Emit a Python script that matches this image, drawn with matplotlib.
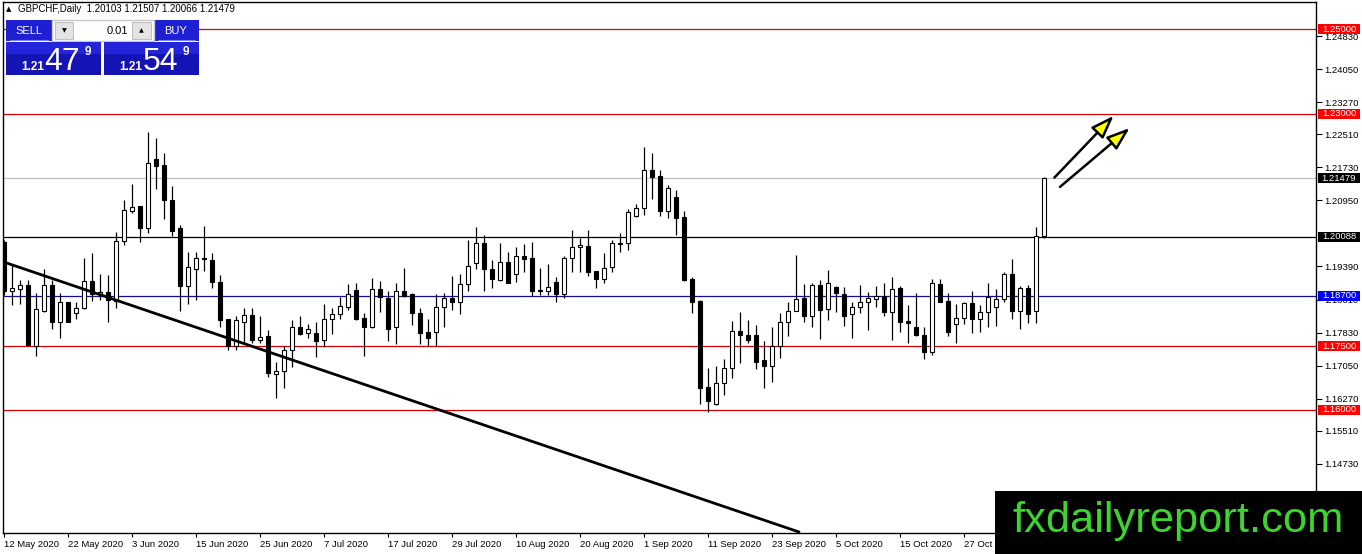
import matplotlib
matplotlib.use('Agg')
import matplotlib.pyplot as plt
import matplotlib.transforms as mtransforms
from matplotlib.patches import Rectangle

plt.rcParams['font.family'] = ['Liberation Sans', 'DejaVu Sans']

# GBPCHF daily candles, 12 May 2020 onward
opens = [1.1998, 1.1880, 1.1885, 1.1895, 1.1752, 1.1835, 1.1895, 1.1807, 1.1855, 1.1829,
         1.1840, 1.1904, 1.1874, 1.1878, 1.1858, 1.1999, 1.2071, 1.2082, 1.2031, 1.2192,
         1.2179, 1.2096, 1.2029, 1.1893, 1.1932, 1.1960, 1.1954, 1.1902, 1.1815, 1.1750,
         1.1809, 1.1825, 1.1766, 1.1775, 1.1685, 1.1691, 1.1742, 1.1796, 1.1781, 1.1781,
         1.1766, 1.1815, 1.1826, 1.1844, 1.1884, 1.1817, 1.1796, 1.1885, 1.1864, 1.1796,
         1.1882, 1.1874, 1.1829, 1.1784, 1.1784, 1.1844, 1.1864, 1.1854, 1.1897, 1.1948,
         1.1994, 1.1932, 1.1906, 1.1949, 1.1921, 1.1964, 1.1960, 1.1884, 1.1882, 1.1902,
         1.1873, 1.1958, 1.1984, 1.1988, 1.1929, 1.1909, 1.1937, 1.1993, 1.1994, 1.2059,
         1.2076, 1.2167, 1.2153, 1.2071, 1.2102, 1.2055, 1.1909, 1.1858, 1.1655, 1.1615,
         1.1663, 1.1699, 1.1787, 1.1777, 1.1777, 1.1717, 1.1705, 1.1750, 1.1809, 1.1835,
         1.1864, 1.1823, 1.1895, 1.1838, 1.1890, 1.1874, 1.1826, 1.1843, 1.1856, 1.1862,
         1.1870, 1.1831, 1.1888, 1.1810, 1.1796, 1.1777, 1.1738, 1.1898, 1.1858, 1.1803,
         1.1817, 1.1852, 1.1815, 1.1831, 1.1843, 1.1862, 1.1921, 1.1834, 1.1888, 1.1835,
         1.20103]
highs = [1.2002, 1.1943, 1.1907, 1.1907, 1.1877, 1.1932, 1.1907, 1.1877, 1.1856, 1.1854,
         1.1958, 1.1970, 1.1921, 1.1919, 1.2021, 1.2096, 1.2134, 1.2083, 1.2256, 1.2242,
         1.2206, 1.2129, 1.2037, 1.1974, 1.1974, 1.2035, 1.1970, 1.1919, 1.1816, 1.1822,
         1.1840, 1.1840, 1.1821, 1.1789, 1.1714, 1.1750, 1.1813, 1.1822, 1.1803, 1.1807,
         1.1850, 1.1840, 1.1868, 1.1898, 1.1901, 1.1830, 1.1911, 1.1905, 1.1880, 1.1899,
         1.1936, 1.1877, 1.1840, 1.1814, 1.1874, 1.1877, 1.1917, 1.1921, 1.2002, 1.2032,
         1.2014, 1.1954, 1.1995, 1.1973, 1.1986, 1.1992, 1.1997, 1.1936, 1.1945, 1.1915,
         1.1964, 1.2025, 1.2006, 1.2025, 1.1929, 1.1970, 1.2002, 1.2018, 1.2074, 1.2087,
         1.2222, 1.2206, 1.2167, 1.2132, 1.2120, 1.2071, 1.1915, 1.1860, 1.1699, 1.1703,
         1.1720, 1.1810, 1.1832, 1.1813, 1.1801, 1.1762, 1.1797, 1.1829, 1.1856, 1.1966,
         1.1898, 1.1899, 1.1907, 1.1931, 1.1893, 1.1890, 1.1854, 1.1895, 1.1878, 1.1893,
         1.1899, 1.1915, 1.1893, 1.1848, 1.1877, 1.1796, 1.1909, 1.1910, 1.1877, 1.1850,
         1.1856, 1.1881, 1.1848, 1.1901, 1.1886, 1.1925, 1.1956, 1.1892, 1.1895, 1.2032,
         1.21507]
lows = [1.1872, 1.1848, 1.1850, 1.1751, 1.1728, 1.1832, 1.1792, 1.1771, 1.1807, 1.1815,
        1.1839, 1.1858, 1.1860, 1.1809, 1.1842, 1.1990, 1.2066, 1.1998, 1.2017, 1.2122,
        1.2051, 1.2010, 1.1835, 1.1850, 1.1860, 1.1929, 1.1889, 1.1797, 1.1742, 1.1742,
        1.1759, 1.1759, 1.1759, 1.1679, 1.1628, 1.1653, 1.1701, 1.1777, 1.1770, 1.1724,
        1.1748, 1.1779, 1.1815, 1.1836, 1.1813, 1.1728, 1.1793, 1.1832, 1.1762, 1.1756,
        1.1868, 1.1801, 1.1756, 1.1751, 1.1750, 1.1795, 1.1836, 1.1827, 1.1880, 1.1933,
        1.1882, 1.1888, 1.1904, 1.1901, 1.1903, 1.1927, 1.1869, 1.1872, 1.1872, 1.1854,
        1.1864, 1.1927, 1.1927, 1.1917, 1.1889, 1.1901, 1.1925, 1.1974, 1.1977, 1.2057,
        1.2061, 1.2099, 1.2058, 1.2054, 1.2014, 1.1905, 1.1829, 1.1615, 1.1596, 1.1612,
        1.1636, 1.1675, 1.1711, 1.1759, 1.1696, 1.1651, 1.1667, 1.1722, 1.1775, 1.1835,
        1.1807, 1.1795, 1.1768, 1.1813, 1.1832, 1.1799, 1.1771, 1.1830, 1.1789, 1.1844,
        1.1821, 1.1766, 1.1784, 1.1758, 1.1774, 1.1720, 1.1729, 1.1855, 1.1774, 1.1758,
        1.1803, 1.1781, 1.1785, 1.1795, 1.1799, 1.1854, 1.1815, 1.1791, 1.1805, 1.1805,
        1.20066]
closes = [1.1880, 1.1888, 1.1895, 1.1754, 1.1838, 1.1895, 1.1807, 1.1855, 1.1808, 1.1840,
          1.1904, 1.1874, 1.1878, 1.1860, 1.1999, 1.2072, 1.2079, 1.2031, 1.2183, 1.2177,
          1.2095, 1.2024, 1.1892, 1.1937, 1.1958, 1.1956, 1.1903, 1.1813, 1.1751, 1.1813,
          1.1825, 1.1766, 1.1772, 1.1687, 1.1693, 1.1742, 1.1796, 1.1780, 1.1791, 1.1764,
          1.1814, 1.1826, 1.1846, 1.1874, 1.1815, 1.1797, 1.1885, 1.1866, 1.1792, 1.1882,
          1.1870, 1.1830, 1.1783, 1.1771, 1.1844, 1.1864, 1.1854, 1.1897, 1.1940, 1.1994,
          1.1932, 1.1909, 1.1949, 1.1901, 1.1964, 1.1956, 1.1882, 1.1880, 1.1890, 1.1873,
          1.1958, 1.1984, 1.1990, 1.1925, 1.1909, 1.1935, 1.1994, 1.1994, 1.2067, 1.2076,
          1.2167, 1.2151, 1.2071, 1.2124, 1.2054, 1.1907, 1.1856, 1.1653, 1.1622, 1.1663,
          1.1699, 1.1787, 1.1776, 1.1766, 1.1714, 1.1705, 1.1750, 1.1807, 1.1834, 1.1862,
          1.1821, 1.1895, 1.1836, 1.1899, 1.1876, 1.1823, 1.1844, 1.1856, 1.1864, 1.1870,
          1.1832, 1.1885, 1.1807, 1.1805, 1.1776, 1.1738, 1.1899, 1.1856, 1.1785, 1.1817,
          1.1852, 1.1815, 1.1831, 1.1866, 1.1862, 1.1921, 1.1835, 1.1888, 1.1826, 1.2010,
          1.21479]

date_labels = ['12 May 2020', '22 May 2020', '3 Jun 2020', '15 Jun 2020', '25 Jun 2020',
               '7 Jul 2020', '17 Jul 2020', '29 Jul 2020', '10 Aug 2020', '20 Aug 2020',
               '1 Sep 2020', '11 Sep 2020', '23 Sep 2020', '5 Oct 2020', '15 Oct 2020',
               '27 Oct 2020']
bars_per_label = 8

price_ticks = [1.24830, 1.24050, 1.23270, 1.22510, 1.21730, 1.20950, 1.19390,
               1.18610, 1.17830, 1.17050, 1.16270, 1.15510, 1.14730, 1.13950]

red_levels = [1.25000, 1.23000, 1.17500, 1.16000]
black_level = 1.20088
blue_level = 1.18700
bid = 1.21479

trend_x = [-0.1, 99.5]
trend_y = [1.1950, 1.1311]

arrow_starts = [(131.3, 1.2149), (132.0, 1.2127)]
arrow_ends = [(138.7, 1.2295), (140.7, 1.2266)]

W, H = 1362, 554
fig = plt.figure(figsize=(W / 100, H / 100), dpi=100)
fig.set_facecolor('w')
ax = fig.add_axes([3 / W, 1 - 533 / H, 1313 / W, 531 / H])
ax.set_xlim(-0.125, 164)
ax.set_ylim(1.13094, 1.25638)
px_per_price = 531 / (1.25638 - 1.13094)

# candles
n = len(opens)
for i in range(n):
    o, h, l, c = opens[i], highs[i], lows[i], closes[i]
    ax.vlines(i, l, h, color='black', lw=0.9, zorder=3)
    up = c >= o
    ax.bar(i, max(abs(c - o), 0.00003), bottom=min(o, c), width=0.58,
           color='white' if up else 'black', edgecolor='black', linewidth=0.8, zorder=4)

# levels
for lv in red_levels:
    ax.axhline(lv, color='#d40000', lw=0.9, zorder=2)
ax.axhline(black_level, color='black', lw=0.9, zorder=2)
ax.axhline(blue_level, color='#101090', lw=0.9, zorder=2)
ax.axhline(bid, color='#c0c0c0', lw=0.9, zorder=1)

ax.plot(trend_x, trend_y, color='black', lw=2.0, zorder=5, solid_capstyle='butt')

for s, e in zip(arrow_starts, arrow_ends):
    ax.annotate('', xy=e, xytext=s,
                arrowprops=dict(arrowstyle='-|>,head_length=1.4,head_width=0.5',
                                fc='#ffff00', ec='black', lw=1.8, shrinkA=0, shrinkB=0),
                zorder=6)

# axes styling
for sp in ax.spines.values():
    sp.set_linewidth(1.0)
ax.yaxis.tick_right()
ax.set_yticks(price_ticks)
ax.set_yticklabels(['%.5f' % t for t in price_ticks], fontsize=6.8)
ax.tick_params(axis='y', length=4, width=0.8, pad=2, direction='out')
ax.set_xticks([k * bars_per_label for k in range(len(date_labels))])
ax.set_xticklabels(date_labels, fontsize=6.8, ha='left')
ax.tick_params(axis='x', length=3, width=0.8, pad=2, direction='out')

# right-axis level labels (boxes 42 x 10 px)
tr = mtransforms.blended_transform_factory(ax.transAxes, ax.transData)
box_x = (1318 - 3) / 1313
box_w = 42 / 1313
box_h = 10 / px_per_price
def level_label(val, fc):
    ax.add_patch(Rectangle((box_x, val - box_h / 2), box_w, box_h, transform=tr,
                           fc=fc, ec='none', clip_on=False, zorder=19))
    ax.text(box_x + box_w / 2, val, '%.5f' % val, transform=tr, fontsize=6.8,
            color='white', va='center', ha='center', clip_on=False, zorder=20)
for lv in red_levels:
    level_label(lv, '#ff0000')
level_label(bid, 'black')
level_label(black_level, 'black')
level_label(blue_level, '#0000ff')

# overlay in pixel coordinates: header, trade panel, watermark
ov = fig.add_axes([0, 0, 1, 1], zorder=10)
ov.set_xlim(0, W)
ov.set_ylim(H, 0)
ov.axis('off')
ov.patch.set_alpha(0)

ov.text(6, 9, '\u25b2', fontsize=5, va='center', ha='left', family=['DejaVu Sans'])
ov.text(18, 9, 'GBPCHF,Daily  1.20103 1.21507 1.20066 1.21479', fontsize=7,
        va='center', ha='left', color='black')

blue = '#1e1ed2'
ov.add_patch(Rectangle((6, 20), 46, 21, fc=blue, ec='none'))
ov.add_patch(Rectangle((154, 20), 45, 21, fc=blue, ec='none'))
ov.plot([10, 48], [40, 40], color='#8080ff', lw=0.8)
ov.plot([158, 195], [40, 40], color='#8080ff', lw=0.8)
ov.text(29, 30.5, 'SELL', color='white', fontsize=8, ha='center', va='center')
ov.text(176, 30.5, 'BUY', color='white', fontsize=8, ha='center', va='center')
ov.add_patch(Rectangle((52, 20), 102, 21, fc='white', ec='#c8c8c8', lw=1))
ov.add_patch(Rectangle((55, 22), 18, 17, fc='#e4e4e4', ec='#c0c0c0', lw=0.8))
ov.add_patch(Rectangle((132, 22), 19, 17, fc='#e4e4e4', ec='#c0c0c0', lw=0.8))
ov.text(64, 30.5, '\u25bc', fontsize=4.5, ha='center', va='center', family=['DejaVu Sans'])
ov.text(141.5, 30.5, '\u25b2', fontsize=4.5, ha='center', va='center', family=['DejaVu Sans'])
ov.text(128, 30.5, '0.01', fontsize=8, ha='right', va='center')

for x0, big, small_x, big_x, sup_x in [(6, '47', 33, 62, 88), (104, '54', 131, 161, 186)]:
    ov.add_patch(Rectangle((x0, 42), 95, 33, fc='#1414b4', ec='none'))
    ov.add_patch(Rectangle((x0, 42), 95, 12, fc='#2424d8', ec='none'))
    ov.text(small_x, 69.5, '1.21', color='white', fontsize=8.5, fontweight='bold',
            ha='center', va='baseline')
    ov.text(big_x, 70, big, color='white', fontsize=23, ha='center', va='baseline')
    ov.text(sup_x, 55, '9', color='white', fontsize=8.5, fontweight='bold',
            ha='center', va='baseline')

ov.add_patch(Rectangle((995, 491), W - 995, H - 491, fc='black', ec='none'))
ov.text(1178.5, 521, 'fxdailyreport.com', color='#3cd42e', fontsize=31.3,
        ha='center', va='center')

fig.savefig('out.png', dpi=100, facecolor='w')
